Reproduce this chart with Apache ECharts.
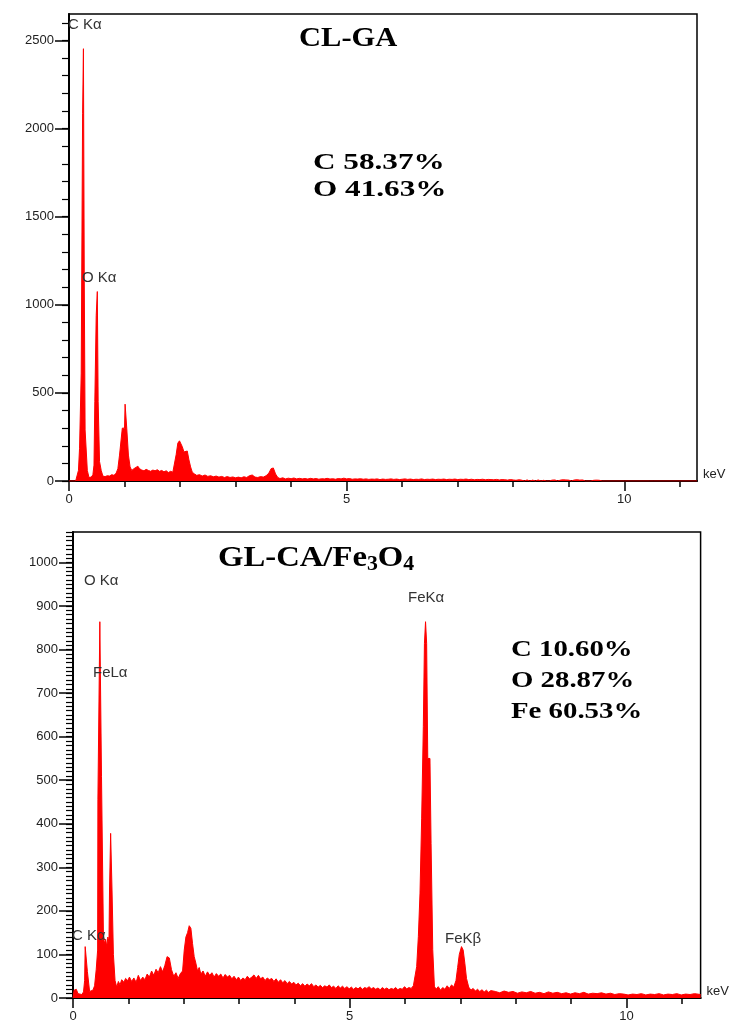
<!DOCTYPE html>
<html>
<head>
<meta charset="utf-8">
<script src="https://cdn.jsdelivr.net/npm/echarts@6/dist/echarts.min.js"></script>
<style>html,body{margin:0;padding:0;background:#fff}#c{width:730px;height:1025px}</style>
</head>
<body>
<div id="c"></div>
<script>
// ---- data (energy keV, counts) ----
const topSpectrum = [[0,0],[0.12,0],[0.15,8],[0.17,60],[0.19,186],[0.21,186],[0.22,612],[0.24,612],[0.245,2084],[0.255,2084],[0.26,2453],[0.27,2453],[0.275,1130],[0.285,1130],[0.29,290],[0.31,290],[0.33,60],[0.36,20],[0.40,22],[0.43,35],[0.45,90],[0.465,450],[0.48,450],[0.49,940],[0.505,940],[0.51,1075],[0.52,1075],[0.525,450],[0.54,450],[0.55,110],[0.58,60],[0.61,28],[0.65,25],[0.69,30],[0.73,28],[0.77,36],[0.81,32],[0.85,45],[0.88,70],[0.91,147],[0.94,150],[0.96,300],[1.00,300],[1.01,436],[1.03,436],[1.04,300],[1.07,147],[1.10,80],[1.13,60],[1.17,70],[1.20,62],[1.24,84],[1.27,70],[1.31,62],[1.35,58],[1.39,66],[1.43,60],[1.47,55],[1.51,62],[1.55,58],[1.59,64],[1.63,55],[1.67,60],[1.71,52],[1.75,58],[1.79,48],[1.83,55],[1.87,50],[1.90,60],[1.93,150],[1.96,215],[1.99,228],[2.02,228],[2.04,195],[2.07,165],[2.10,176],[2.13,170],[2.16,120],[2.19,80],[2.22,50],[2.26,40],[2.30,32],[2.35,36],[2.40,28],[2.45,34],[2.50,26],[2.55,30],[2.60,24],[2.65,28],[2.70,22],[2.75,26],[2.80,20],[2.85,25],[2.90,20],[2.95,23],[3.00,18],[3.05,22],[3.10,18],[3.15,24],[3.20,20],[3.25,30],[3.30,34],[3.35,22],[3.40,20],[3.45,25],[3.50,22],[3.55,30],[3.60,45],[3.64,70],[3.68,74],[3.72,40],[3.76,20],[3.80,14],[3.85,18],[3.90,12],[3.95,16],[4.00,13],[4.05,17],[4.10,12],[4.15,15],[4.20,12],[4.25,14],[4.30,11],[4.35,15],[4.40,12],[4.45,14],[4.50,10],[4.55,13],[4.60,12],[4.65,15],[4.70,11],[4.75,13],[4.80,10],[4.85,14],[4.90,12],[4.95,16],[5.00,12],[5.05,14],[5.10,10],[5.15,12],[5.20,11],[5.25,13],[5.30,10],[5.35,12],[5.40,9],[5.45,11],[5.50,10],[5.55,12],[5.60,8],[5.65,11],[5.70,9],[5.75,10],[5.80,12],[5.85,9],[5.90,11],[5.95,8],[6.00,10],[6.05,12],[6.10,9],[6.15,11],[6.20,8],[6.25,10],[6.30,9],[6.35,12],[6.40,8],[6.45,10],[6.50,9],[6.55,11],[6.60,8],[6.65,10],[6.70,9],[6.75,11],[6.80,8],[6.85,10],[6.90,9],[6.95,11],[7.00,8],[7.05,10],[7.10,9],[7.15,11],[7.20,8],[7.25,10],[7.30,7],[7.35,9],[7.40,8],[7.45,10],[7.50,7],[7.55,9],[7.60,8],[7.65,7],[7.70,9],[7.75,6],[7.80,8],[7.85,7],[7.90,5],[7.95,8],[8.00,6],[8.05,4],[8.10,7],[8.15,5],[8.20,0],[8.25,6],[8.30,0],[8.35,5],[8.40,0],[8.45,6],[8.50,0],[8.55,4],[8.60,0],[8.65,0],[8.70,5],[8.75,6],[8.80,0],[8.85,5],[8.90,7],[8.95,6],[9.00,5],[9.05,0],[9.10,6],[9.15,7],[9.20,5],[9.25,6],[9.30,0],[9.40,0],[9.45,4],[9.50,5],[9.55,4],[9.60,0],[10.0,0],[10.45,0],[10.48,4],[10.52,0],[11.31,0]];

const bottomSpectrum = [[0,0],[0.02,18],[0.06,20],[0.09,10],[0.12,6],[0.16,8],[0.19,14],[0.21,40],[0.22,118],[0.25,118],[0.26,61],[0.28,61],[0.30,15],[0.33,12],[0.36,18],[0.39,28],[0.42,66],[0.445,110],[0.45,455],[0.48,455],[0.485,864],[0.51,864],[0.515,508],[0.545,508],[0.55,140],[0.57,125],[0.59,135],[0.61,118],[0.63,140],[0.65,128],[0.66,248],[0.68,378],[0.70,378],[0.705,248],[0.72,248],[0.73,100],[0.76,40],[0.79,25],[0.82,38],[0.85,30],[0.88,42],[0.92,36],[0.95,45],[0.99,40],[1.02,48],[1.06,38],[1.10,46],[1.14,36],[1.18,52],[1.22,40],[1.26,48],[1.30,42],[1.34,55],[1.38,48],[1.42,62],[1.46,52],[1.50,66],[1.54,58],[1.58,72],[1.62,60],[1.66,75],[1.70,95],[1.74,92],[1.78,65],[1.82,50],[1.86,58],[1.90,45],[1.94,56],[1.98,62],[2.01,110],[2.04,140],[2.07,150],[2.10,166],[2.13,160],[2.16,125],[2.19,95],[2.22,80],[2.25,62],[2.28,70],[2.31,55],[2.35,62],[2.39,50],[2.43,60],[2.47,52],[2.51,58],[2.55,48],[2.59,56],[2.63,50],[2.67,55],[2.71,46],[2.75,54],[2.79,48],[2.83,52],[2.87,44],[2.91,50],[2.95,42],[2.99,48],[3.03,40],[3.07,46],[3.11,42],[3.15,50],[3.19,44],[3.23,48],[3.27,53],[3.31,45],[3.35,52],[3.39,44],[3.43,48],[3.47,40],[3.51,46],[3.55,42],[3.59,45],[3.63,38],[3.67,44],[3.71,36],[3.75,42],[3.79,35],[3.83,40],[3.87,33],[3.91,38],[3.95,32],[3.99,36],[4.03,30],[4.07,34],[4.11,28],[4.15,33],[4.19,27],[4.23,32],[4.27,28],[4.31,33],[4.35,26],[4.39,30],[4.43,25],[4.47,29],[4.51,24],[4.55,28],[4.59,25],[4.63,30],[4.67,24],[4.71,27],[4.75,22],[4.79,28],[4.83,23],[4.87,27],[4.91,22],[4.95,26],[4.99,21],[5.03,25],[5.07,20],[5.11,24],[5.15,21],[5.19,25],[5.23,20],[5.27,24],[5.31,22],[5.35,26],[5.39,21],[5.43,24],[5.47,20],[5.51,23],[5.55,19],[5.59,24],[5.63,20],[5.67,23],[5.71,19],[5.75,22],[5.79,20],[5.83,24],[5.87,19],[5.91,22],[5.95,20],[5.99,26],[6.03,21],[6.07,24],[6.11,22],[6.15,28],[6.18,30],[6.21,72],[6.24,141],[6.27,241],[6.30,413],[6.33,623],[6.35,814],[6.37,864],[6.39,814],[6.41,550],[6.45,550],[6.47,355],[6.50,111],[6.53,27],[6.56,20],[6.60,26],[6.64,18],[6.68,24],[6.72,20],[6.76,28],[6.80,22],[6.84,30],[6.88,25],[6.92,40],[6.95,70],[6.98,100],[7.02,118],[7.05,110],[7.08,80],[7.11,45],[7.15,25],[7.19,18],[7.23,22],[7.27,16],[7.31,20],[7.35,15],[7.39,19],[7.43,14],[7.47,18],[7.51,13],[7.55,17],[7.63,15],[7.71,12],[7.79,16],[7.87,13],[7.95,15],[8.03,11],[8.11,14],[8.19,12],[8.27,15],[8.35,11],[8.43,13],[8.51,10],[8.59,14],[8.67,11],[8.75,13],[8.83,10],[8.91,12],[8.99,9],[9.07,12],[9.15,10],[9.23,13],[9.31,9],[9.39,11],[9.47,10],[9.55,12],[9.63,9],[9.71,11],[9.79,8],[9.87,10],[9.95,9],[10.03,7],[10.11,9],[10.19,8],[10.27,10],[10.35,7],[10.43,9],[10.51,8],[10.59,10],[10.67,7],[10.75,9],[10.83,8],[10.91,10],[10.99,7],[11.07,9],[11.15,8],[11.23,10],[11.34,8]];

const xMajorTicks = [0, 5, 10];
const xMinorTicks = [0,1,2,3,4,5,6,7,8,9,10,11];
const topYMajorTicks = [0,500,1000,1500,2000,2500];
const topYMinorTicks = [0,100,200,300,400,500,600,700,800,900,1000,1100,1200,1300,1400,1500,1600,1700,1800,1900,2000,2100,2200,2300,2400,2500,2600];
const bottomYMajorTicks = [0,100,200,300,400,500,600,700,800,900,1000];
const bottomYMinorTicks = [];
for (let v = 0; v <= 1070; v += 10) bottomYMinorTicks.push(v);

const topTitle = 'CL-GA';
const topComposition = ['C 58.37%', 'O 41.63%'];
const topPeakNames = ['C Kα', 'O Kα'];
const bottomComposition = ['C 10.60%', 'O 28.87%', 'Fe 60.53%'];
const bottomPeakNames = ['O Kα', 'FeLα', 'FeKα', 'FeKβ', 'C Kα'];

// ---- chart ----
const SANS = '"Liberation Sans", Arial, sans-serif';
const SERIF = '"Liberation Serif", "Times New Roman", serif';
const chart = echarts.init(document.getElementById('c'), null, {renderer: 'canvas'});

const xMax = [11.31, 11.34];
const yMax = [2650, 1070];
const yMajor = [topYMajorTicks, bottomYMajorTicks];
const yMinor = [topYMinorTicks, bottomYMinorTicks];
const yInterval = [500, 100];

const grids = [
  {left: 69, top: 14, width: 628, height: 467},
  {left: 73, top: 532, width: 628, height: 466}
];

const plain = v => String(v);

const xAxes = [], yAxes = [];
grids.forEach((g, i) => {
  xAxes.push({
    gridIndex: i, type: 'value', position: 'bottom', min: 0, max: xMax[i], interval: 5,
    axisLine: {show: true, onZero: false, lineStyle: {color: '#000', width: 2}},
    axisTick: {show: true, inside: false, length: 10, customValues: xMajorTicks, lineStyle: {color: '#000', width: 1.5}},
    axisLabel: {show: true, inside: false, showMaxLabel: false, formatter: plain, color: '#222', fontSize: 13, fontFamily: SANS, margin: 12},
    splitLine: {show: false},
    name: 'keV', nameLocation: 'end', nameGap: 6,
    nameTextStyle: {color: '#222', fontSize: 13, fontFamily: SANS, align: 'left', verticalAlign: 'bottom'}
  });
  xAxes.push({
    gridIndex: i, type: 'value', position: 'bottom', offset: 0, min: 0, max: xMax[i], interval: 1,
    axisLine: {show: false, onZero: false},
    axisTick: {show: true, inside: false, length: 6, customValues: xMinorTicks, lineStyle: {color: '#000', width: 1.5}},
    axisLabel: {show: false}, splitLine: {show: false}
  });
  yAxes.push({
    gridIndex: i, type: 'value', position: 'left', min: 0, max: yMax[i], interval: yInterval[i],
    axisLine: {show: true, onZero: false, lineStyle: {color: '#000', width: 2}},
    axisTick: {show: true, inside: false, length: 14, customValues: yMajor[i], lineStyle: {color: '#000', width: 1.5}},
    axisLabel: {show: true, inside: false, showMaxLabel: false, formatter: plain, color: '#222', fontSize: 13, fontFamily: SANS, margin: 15},
    splitLine: {show: false}
  });
  yAxes.push({
    gridIndex: i, type: 'value', position: 'left', offset: 0, min: 0, max: yMax[i], interval: yInterval[i],
    axisLine: {show: false, onZero: false},
    axisTick: {show: true, inside: false, length: 7, customValues: yMinor[i], lineStyle: {color: '#000', width: 1.2}},
    axisLabel: {show: false}, splitLine: {show: false}
  });
});

function spectrumSeries(data, gi) {
  return {
    type: 'line', data: data, xAxisIndex: gi * 2, yAxisIndex: gi * 2,
    showSymbol: false, symbol: 'none', smooth: false, sampling: null,
    lineStyle: {color: '#ff0000', width: 1},
    areaStyle: {color: '#ff0000', opacity: 1},
    animation: false, silent: true, z: 1
  };
}

function txt(text, x, y, size, opts) {
  opts = opts || {};
  return {
    type: 'text', x: x, y: y, scaleX: opts.sx || 1, z: 100,
    style: {
      text: text, fill: opts.color || '#000', fontSize: size,
      fontFamily: opts.family || SANS, fontWeight: opts.weight || 'normal',
      align: 'left', verticalAlign: 'top', textAlign: 'left', textVerticalAlign: 'top',
      rich: opts.rich
    }
  };
}

const peakColor = '#333';
const graphics = [
  // top chart texts
  txt(topTitle, 299, 26, 27, {family: SERIF, weight: 'bold', sx: 1.13}),
  txt(topComposition[0], 313, 151, 24, {family: SERIF, weight: 'bold', sx: 1.3}),
  txt(topComposition[1], 313, 178, 24, {family: SERIF, weight: 'bold', sx: 1.3}),
  txt(topPeakNames[0], 68, 17, 15, {color: peakColor}),
  txt(topPeakNames[1], 82, 270, 15, {color: peakColor}),
  // bottom chart texts
  {
    type: 'text', x: 218, y: 541, scaleX: 1.09, z: 100,
    style: {
      text: '{n|GL-CA/Fe}{s|3}{n|O}{s|4}',
      fill: '#000', align: 'left', verticalAlign: 'top',
      rich: {
        n: {fontSize: 30, fontFamily: SERIF, fontWeight: 'bold', lineHeight: 34, fill: '#000'},
        s: {fontSize: 20, fontFamily: SERIF, fontWeight: 'bold', lineHeight: 14, verticalAlign: 'bottom', fill: '#000'}
      }
    }
  },
  txt(bottomComposition[0], 511, 638, 24, {family: SERIF, weight: 'bold', sx: 1.2}),
  txt(bottomComposition[1], 511, 669, 24, {family: SERIF, weight: 'bold', sx: 1.2}),
  txt(bottomComposition[2], 511, 700, 24, {family: SERIF, weight: 'bold', sx: 1.2}),
  txt(bottomPeakNames[0], 84, 573, 15, {color: peakColor}),
  txt(bottomPeakNames[1], 93, 665, 15, {color: peakColor}),
  txt(bottomPeakNames[2], 408, 590, 15, {color: peakColor}),
  txt(bottomPeakNames[3], 445, 931, 15, {color: peakColor}),
  txt(bottomPeakNames[4], 72, 928, 15, {color: peakColor})
];

chart.setOption({
  animation: false,
  backgroundColor: '#fff',
  grid: grids.map(g => Object.assign({show: true, borderColor: '#000', borderWidth: 1.5, backgroundColor: 'transparent'}, g)),
  xAxis: xAxes,
  yAxis: yAxes,
  series: [spectrumSeries(topSpectrum, 0), spectrumSeries(bottomSpectrum, 1)],
  graphic: graphics
});
</script>
</body>
</html>
